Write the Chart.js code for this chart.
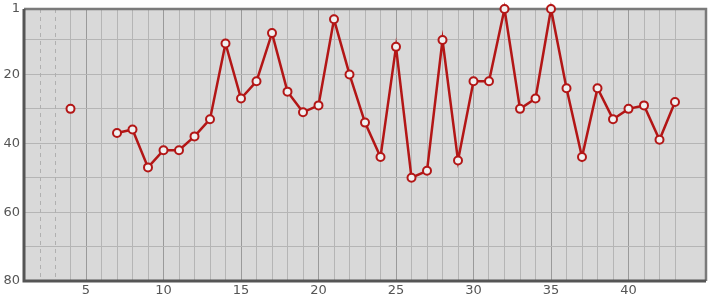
<!DOCTYPE html>
<html>
<head>
<meta charset="utf-8">
<script src="https://cdn.jsdelivr.net/npm/chart.js@4/dist/chart.umd.min.js"></script>
<style>
  html, body { margin:0; padding:0; background:#fff; }
  #wrap { width:715px; height:300px; }
</style>
</head>
<body>
<div id="wrap"><canvas id="rank-chart" width="715" height="300"></canvas></div>
<script>
// data
const days  = [1,2,3,4,5,6,7,8,9,10,11,12,13,14,15,16,17,18,19,20,21,22,23,24,25,26,27,28,29,30,31,32,33,34,35,36,37,38,39,40,41,42,43];
const ranks = [null,null,null,30,null,null,37,36,47,42,42,38,33,11,27,22,8,25,31,29,4,20,34,44,12,50,48,10,45,22,22,1,30,27,1,24,44,24,33,30,29,39,28];
const yTicks = [1,10,20,30,40,50,60,70,80];
const yLabels = [1,20,40,60,80];
const dashedDays = [2,3];
const hiddenDays = [44];

// frame + background + dashed lines
const framePlugin = {
  id: 'frame',
  beforeDraw(chart) {
    const { ctx, chartArea: a } = chart;
    ctx.save();
    ctx.fillStyle = '#d9d9d9';
    ctx.fillRect(a.left, a.top, a.right - a.left, a.bottom - a.top);
    ctx.restore();
  },
  beforeDatasetsDraw(chart) {
    const { ctx, chartArea: a, scales } = chart;
    ctx.save();
    ctx.strokeStyle = '#b0b0b0';
    ctx.lineWidth = 1;
    ctx.setLineDash([4, 4]);
    dashedDays.forEach(d => {
      const x = Math.round(scales.x.getPixelForValue(d)) + 0.5;
      ctx.beginPath(); ctx.moveTo(x, a.top); ctx.lineTo(x, a.bottom); ctx.stroke();
    });
    ctx.setLineDash([]);
    // top / right border
    ctx.strokeStyle = '#7a7a7a';
    ctx.lineWidth = 2.5;
    ctx.beginPath();
    ctx.moveTo(a.left, a.top); ctx.lineTo(a.right, a.top); ctx.lineTo(a.right, a.bottom);
    ctx.stroke();
    // left / bottom border
    ctx.strokeStyle = '#555';
    ctx.lineWidth = 3;
    ctx.beginPath();
    ctx.moveTo(a.left, a.top); ctx.lineTo(a.left, a.bottom); ctx.lineTo(a.right, a.bottom);
    ctx.stroke();
    ctx.restore();
  }
};

Chart.defaults.font.family = "'DejaVu Sans', sans-serif";
Chart.defaults.font.size = 13;
Chart.defaults.color = '#555';

new Chart(document.getElementById('rank-chart').getContext('2d'), {
  type: 'line',
  data: {
    datasets: [{
      data: days.map((d, i) => ({ x: d, y: ranks[i] })),
      borderColor: '#b31616', borderWidth: 2.5,
      pointBackgroundColor: '#f0f0f0', pointBorderColor: '#b31616',
      pointBorderWidth: 2, pointRadius: 4, spanGaps: false, clip: false,
      tension: 0
    }]
  },
  options: {
    responsive: false, animation: false,
    layout: { padding: { top: 9, right: 9, left: 0, bottom: 0 } },
    plugins: { legend: { display: false }, tooltip: { enabled: false } },
    scales: {
      x: {
        type: 'linear', min: 1, max: 45,
        afterBuildTicks: s => { s.ticks = []; for (let v = 1; v <= 45; v++) s.ticks.push({ value: v }); },
        afterFit: s => { s.height = 19; },
        ticks: { autoSkip: false, maxRotation: 0, padding: 2,
          callback: v => (v % 5 === 0 && v < 45) ? v : '' },
        grid: { drawTicks: false,
          color: c => {
            const v = c.tick && c.tick.value;
            if (v === 1 || v === 45 || dashedDays.includes(v) || hiddenDays.includes(v)) return 'rgba(0,0,0,0)';
            return v % 5 === 0 ? '#9a9a9a' : '#b5b5b5';
          } },
        border: { display: false }
      },
      y: {
        min: 1, max: 80, reverse: true,
        afterBuildTicks: s => { s.ticks = yTicks.map(v => ({ value: v })); },
        afterFit: s => { s.width = 24; s.paddingTop = 0; s.paddingBottom = 0; },
        ticks: { autoSkip: false, padding: 4, font: { lineHeight: 1 },
          callback: v => yLabels.includes(v) ? v : '' },
        grid: { drawTicks: false,
          color: c => (c.tick && (c.tick.value === 1 || c.tick.value === 80)) ? 'rgba(0,0,0,0)' : '#b5b5b5' },
        border: { display: false }
      }
    }
  },
  plugins: [framePlugin]
});
</script>
</body>
</html>
